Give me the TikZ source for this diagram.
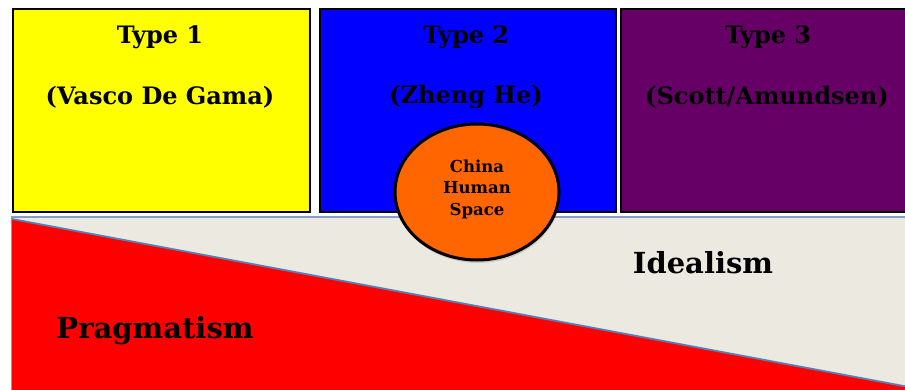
\documentclass[tikz,border=0pt]{standalone}
\usepackage{fontspec}
\setmainfont{DejaVu Serif}
\usetikzlibrary{shapes.geometric,shadows}
\definecolor{panelbg}{HTML}{ECEAE0}
\definecolor{paneledge}{HTML}{7F9DC6}
\definecolor{diagblue}{HTML}{5A7FB5}
\definecolor{yel}{HTML}{FFFF00}
\definecolor{blu}{HTML}{0000FF}
\definecolor{purp}{HTML}{660066}
\definecolor{orng}{HTML}{FF6600}
\definecolor{redf}{HTML}{FF0000}
\tikzset{
  typebox/.style={draw=black, line width=2.2pt, anchor=north west, inner sep=0pt},
  title/.style={font=\fontsize{24}{28}\selectfont\bfseries, text=black, inner sep=0pt},
  big/.style={font=\fontsize{29}{33}\selectfont\bfseries, text=black, inner sep=0pt},
  small/.style={font=\fontsize{16.5}{21.5}\selectfont\bfseries, text=black, align=center, inner sep=0pt},
}
\begin{document}
\begin{tikzpicture}[x=1pt,y=-1pt]
\useasboundingbox (0,0) rectangle (905,390);
\fill[white] (0,0) rectangle (905,390);
% lower panel
\filldraw[fill=panelbg, draw=paneledge, line width=1.4pt] (12,217) rectangle (925,400);
\fill[redf] (12,219) -- (925,390) -- (925,400) -- (12,400) -- cycle;
\draw[diagblue, line width=1.8pt] (12,219) -- (925,390);
% type boxes
\node[typebox, fill=yel, minimum width=297pt, minimum height=203pt] (b1) at (12,8) {};
\node[typebox, fill=blu, minimum width=296pt, minimum height=203pt] (b2) at (319,8) {};
\node[typebox, fill=purp, minimum width=300pt, minimum height=203pt] (b3) at (620,8) {};
\node[title] (t1) at (160,37) {Type 1};
\node[title] (n1) at (160,97) {(Vasco De Gama)};
\node[title] (t2) at (466,37) {Type 2};
\node[title] (n2) at (466,97) {(Zheng He)};
\node[title] (t3) at (768,37) {Type 3};
\node[title] (n3) at (767,97) {(Scott/Amundsen)};
% circle
\node[ellipse, draw=black, line width=3pt, fill=orng, minimum width=164pt, minimum height=136pt,
      drop shadow={shadow xshift=1pt, shadow yshift=-3pt, opacity=0.3}] (c) at (477,192) {};
\node[small] (ct) at (477,189) {China\\Human\\Space};
% labels
\node[big] (p) at (155,331) {Pragmatism};
\node[big] (i) at (703,263) {Idealism};
\end{tikzpicture}
\end{document}
